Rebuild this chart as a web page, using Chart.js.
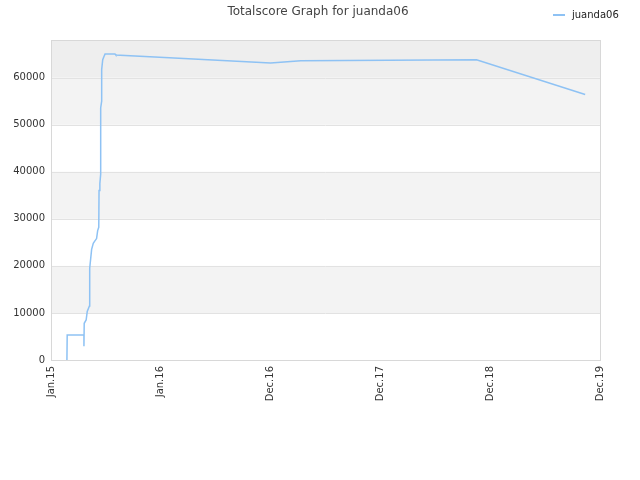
<!DOCTYPE html>
<html>
<head>
<meta charset="utf-8">
<script src="https://cdn.jsdelivr.net/npm/chart.js@4/dist/chart.umd.min.js"></script>
<style>
  body { margin: 0; background: #fff; }
  #wrap { width: 640px; height: 480px; }
</style>
</head>
<body>
<div id="wrap"><canvas id="myChart"></canvas></div>
<script>
const TITLE = 'Totalscore Graph for juanda06';
const SERIES_NAME = 'juanda06';
const xLabels = ['Jan.15', 'Jan.16', 'Dec.16', 'Dec.17', 'Dec.18', 'Dec.19'];
const yTicks = [0, 10000, 20000, 30000, 40000, 50000, 60000];
// position along the time axis (0..100) and total score
const xPos = [2.9, 2.95, 6.0, 6.0, 6.05, 6.4, 6.6, 7.0, 7.0, 7.1, 7.4, 7.7, 8.0, 8.3, 8.5, 8.7, 8.75, 8.9, 9.05, 9.05, 9.23, 9.23, 9.42, 9.65, 9.84, 11.66, 11.8, 18.9, 40.0, 45.5, 77.5, 97.3];
const scores = [0, 5300, 5300, 2900, 7800, 8500, 10300, 11500, 17000, 19500, 23500, 24800, 25300, 25800, 27500, 28200, 36000, 37500, 39500, 53600, 55000, 61700, 63800, 64500, 65000, 65000, 64800, 64400, 63100, 63600, 63800, 56400];

const LINE = '#8ec2f4';
const FONT = 'DejaVu Sans';

const points = xPos.map((x, i) => ({ x: x, y: scores[i] }));

const decor = {
    id: 'decor',
    beforeDatasetsDraw(chart) {
        const { ctx, chartArea: a, scales: { y } } = chart;
        ctx.save();
        // alternating bands
        for (let i = 1; i < yTicks.length - 1; i += 2) {
            const top = y.getPixelForValue(yTicks[i + 1]), bot = y.getPixelForValue(yTicks[i]);
            ctx.fillStyle = '#f3f3f3';
            ctx.fillRect(a.left, top, a.right - a.left, bot - top);
        }
        const t = y.getPixelForValue(yTicks[yTicks.length - 1]);
        ctx.fillStyle = '#eeeeee';
        ctx.fillRect(a.left, a.top, a.right - a.left, t - a.top);
        // grid lines
        ctx.strokeStyle = '#e2e2e2';
        ctx.lineWidth = 1;
        yTicks.slice(1).forEach((v) => {
            const py = Math.round(y.getPixelForValue(v)) + 0.5;
            ctx.beginPath();
            ctx.moveTo(a.left, py);
            ctx.lineTo(a.right, py);
            ctx.stroke();
        });
        // frame
        ctx.strokeStyle = '#d8d8d8';
        ctx.strokeRect(Math.round(a.left) + 0.5, Math.round(a.top) + 0.5,
            Math.round(a.right - a.left), Math.round(a.bottom - a.top));
        ctx.restore();
    },
    afterDraw(chart) {
        const { ctx } = chart;
        ctx.save();
        ctx.fillStyle = '#444';
        ctx.font = '12px "' + FONT + '"';
        ctx.textAlign = 'center';
        ctx.textBaseline = 'middle';
        ctx.fillText(TITLE, 318, 12);
        ctx.strokeStyle = LINE;
        ctx.lineWidth = 2;
        ctx.beginPath();
        ctx.moveTo(553, 15);
        ctx.lineTo(565, 15);
        ctx.stroke();
        ctx.fillStyle = '#222';
        ctx.font = '10px "' + FONT + '"';
        ctx.textAlign = 'left';
        ctx.fillText(SERIES_NAME, 572, 15);
        ctx.restore();
    }
};

new Chart(document.getElementById('myChart'), {
    type: 'line',
    data: {
        datasets: [{
            label: SERIES_NAME,
            data: points,
            borderColor: LINE,
            borderWidth: 1.5,
            pointRadius: 0,
            fill: false,
            tension: 0
        }]
    },
    options: {
        responsive: true,
        maintainAspectRatio: false,
        animation: false,
        layout: { padding: { top: 40, right: 40, left: 0, bottom: 0 } },
        plugins: {
            legend: { display: false },
            tooltip: { enabled: false }
        },
        scales: {
            x: {
                type: 'linear',
                min: 0,
                max: 100,
                grid: { display: false, drawTicks: false },
                border: { display: false },
                ticks: {
                    stepSize: 20,
                    minRotation: 90,
                    maxRotation: 90,
                    padding: 6,
                    color: '#333',
                    font: { family: FONT, size: 10 },
                    callback: (v) => xLabels[Math.round(v / 20)]
                },
                afterFit: (s) => { s.height = 120; }
            },
            y: {
                min: 0,
                max: 68000,
                grid: { display: false, drawTicks: false },
                border: { display: false },
                afterBuildTicks: (s) => { s.ticks = yTicks.map((v) => ({ value: v })); },
                ticks: {
                    padding: 6,
                    color: '#333',
                    font: { family: FONT, size: 10 },
                    callback: (v) => String(v)
                },
                afterFit: (s) => { s.width = 51; }
            }
        }
    },
    plugins: [decor]
});
</script>
</body>
</html>
